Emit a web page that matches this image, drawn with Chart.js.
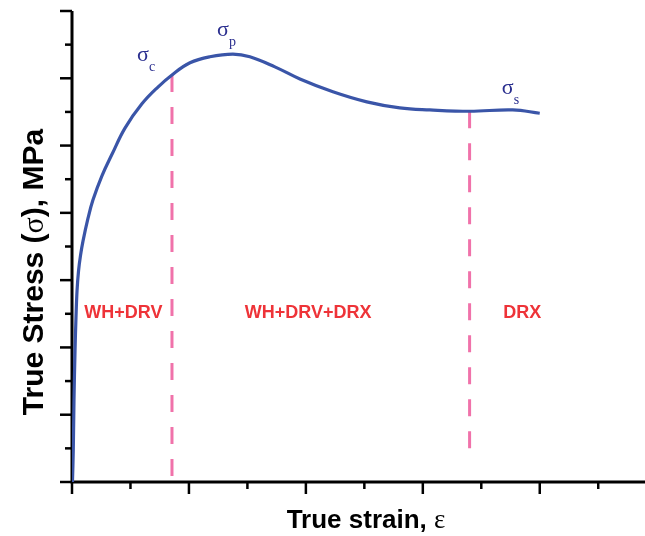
<!DOCTYPE html>
<html><head><meta charset="utf-8">
<script src="https://cdn.jsdelivr.net/npm/chart.js@4/dist/chart.umd.min.js"></script>
<style>html,body{margin:0;padding:0;background:#fff}#wrap{width:645px;height:536px}</style>
</head><body><div id="wrap"><canvas id="c" width="645" height="536"></canvas></div>
<script>
const strain = [0.004,0.011,0.017,0.026,0.034,0.043,0.056,0.073,0.094,0.137,0.179,0.256,0.342,0.453,0.598,0.735,0.855,1.009,1.179,1.376,1.521,1.735,1.949,2.231,2.521,2.803,3.060,3.402,3.769,4.000];
const stress = [0,0.48,1.22,1.96,2.44,2.84,3.14,3.37,3.58,3.92,4.19,4.55,4.87,5.26,5.62,5.87,6.05,6.23,6.32,6.36,6.32,6.17,5.99,5.80,5.65,5.56,5.53,5.51,5.53,5.48];
const criticalStrain = 0.855, criticalStress = 6.05;
const steadyStrain = 3.40, steadyStress = 5.51, steadyEnd = 0.45;
const regionLabels = ['WH+DRV','WH+DRV+DRX','DRX'];
const regionX = [0.44, 2.02, 3.85];
const regionY = 2.51;
const sigmaSubs = ['c','p','s'];
const sigmaX = [0.607, 1.291, 3.726];
const sigmaY = [6.34, 6.72, 5.85];
const xTitle = ['True strain, ', 'ε'];
const yTitle = ['True Stress (', 'σ', '), MPa'];

const pts = strain.map((x,i)=>({x, y: stress[i]}));
const pink = '#f072aa';
const deco = {
  id:'deco',
  afterDraw(chart){
    const {ctx, scales:{x, y}} = chart;
    ctx.save();
    ctx.strokeStyle = '#000'; ctx.lineWidth = 2.5; ctx.lineCap='butt';
    for (let v = 0; v <= 7.001; v += 0.5) {
      const py = y.getPixelForValue(v);
      const major = Math.abs(v - Math.round(v)) < 1e-6;
      ctx.beginPath(); ctx.moveTo(x.left, py); ctx.lineTo(x.left - (major ? 12 : 7), py); ctx.stroke();
    }
    for (let v = 0; v <= 4.9; v += 0.5) {
      const px = x.getPixelForValue(v);
      const major = Math.abs(v - Math.round(v)) < 1e-6;
      ctx.beginPath(); ctx.moveTo(px, y.bottom); ctx.lineTo(px, y.bottom + (major ? 12 : 7)); ctx.stroke();
    }
    ctx.fillStyle = '#ee3338'; ctx.font = 'bold 18px "Liberation Sans", Arial, sans-serif';
    ctx.textAlign='center'; ctx.textBaseline='middle';
    regionLabels.forEach((t,i)=>ctx.fillText(t, x.getPixelForValue(regionX[i]), y.getPixelForValue(regionY)));
    ctx.fillStyle = '#2b2f8f';
    sigmaSubs.forEach((s,i)=>{
      const px = x.getPixelForValue(sigmaX[i]), py = y.getPixelForValue(sigmaY[i]);
      ctx.font = '22px "Liberation Serif", serif'; ctx.textAlign='center'; ctx.textBaseline='middle';
      ctx.fillText('σ', px, py);
      ctx.font = '14px "Liberation Serif", serif'; ctx.textAlign='left';
      ctx.fillText(s, px + 6, py + 12);
    });
    ctx.fillStyle = '#000'; ctx.textBaseline = 'alphabetic'; ctx.textAlign='left';
    const boldX = 'bold 26px "Liberation Sans", Arial, sans-serif';
    const serifX = '27px "Liberation Serif", serif';
    ctx.font = boldX; const w1 = ctx.measureText(xTitle[0]).width;
    ctx.font = serifX; const w2 = ctx.measureText(xTitle[1]).width;
    let sx = 366 - (w1 + w2)/2;
    ctx.font = boldX; ctx.fillText(xTitle[0], sx, 528);
    ctx.font = serifX; ctx.fillText(xTitle[1], sx + w1, 528);
    const boldY = 'bold 30px "Liberation Sans", Arial, sans-serif';
    const serifY = '30px "Liberation Serif", serif';
    const fonts = [boldY, serifY, boldY];
    const ws = yTitle.map((t,i)=>{ctx.font = fonts[i]; return ctx.measureText(t).width;});
    const tot = ws.reduce((a,b)=>a+b,0);
    ctx.translate(43, 272); ctx.rotate(-Math.PI/2);
    let cx = -tot/2;
    yTitle.forEach((t,i)=>{ctx.font = fonts[i]; ctx.fillText(t, cx, 0); cx += ws[i];});
    ctx.restore();
  }
};

new Chart(document.getElementById('c'), {
  type: 'line',
  data: { datasets: [
    { data: pts, borderColor: '#3a55a8', borderWidth: 3.2, pointRadius: 0, tension: 0.4, fill: false },
    { data: [{x:criticalStrain,y:criticalStress},{x:criticalStrain,y:0}], borderColor: pink, borderWidth: 3, borderDash:[17,15], pointRadius:0 },
    { data: [{x:steadyStrain,y:steadyStress},{x:steadyStrain,y:steadyEnd}], borderColor: pink, borderWidth: 3, borderDash:[17,15], pointRadius:0 }
  ]},
  options: {
    responsive: false, animation: false, devicePixelRatio: 1,
    layout: { padding: { left: 72, top: 11, right: 0, bottom: 54 } },
    plugins: { legend: { display: false }, tooltip: { enabled: false } },
    scales: {
      x: { type: 'linear', min: 0, max: 4.9, display: false },
      y: { type: 'linear', min: 0, max: 7, display: false }
    }
  },
  plugins: [deco, {
    id:'axes',
    beforeDatasetsDraw(chart){
      const {ctx, chartArea:a} = chart;
      ctx.save(); ctx.strokeStyle='#000'; ctx.lineWidth=3;
      ctx.beginPath(); ctx.moveTo(a.left, a.top); ctx.lineTo(a.left, a.bottom); ctx.lineTo(a.right, a.bottom); ctx.stroke();
      ctx.restore();
    }
  }]
});
</script></body></html>
